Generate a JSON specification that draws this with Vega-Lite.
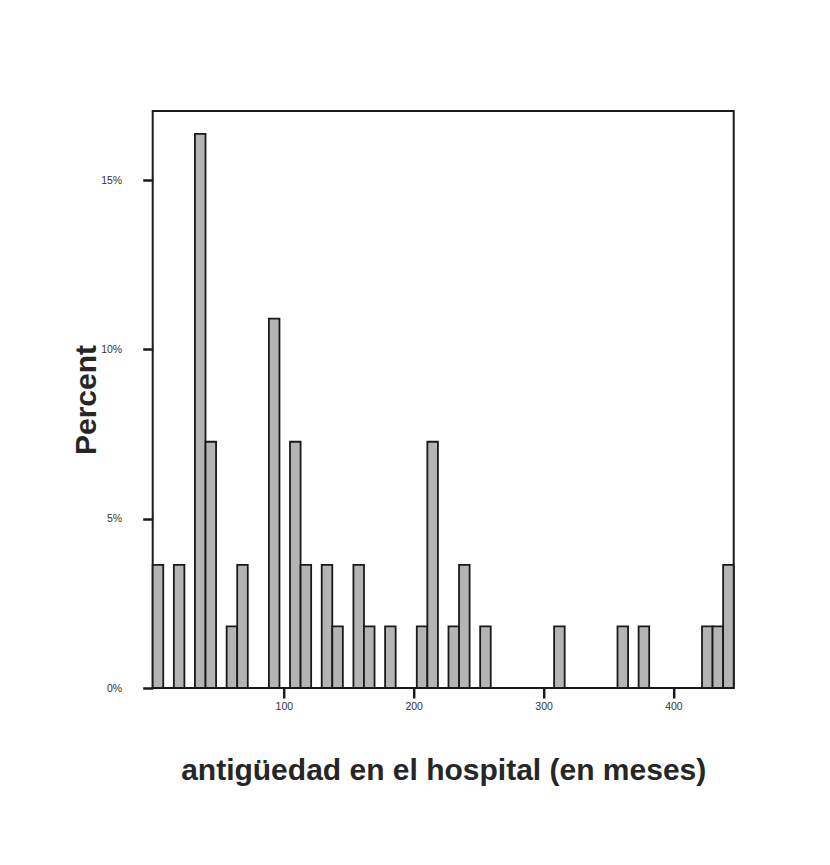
{
  "$schema": "https://vega.github.io/schema/vega-lite/v6.json",
  "description": "Histogram of hospital seniority in months, 55 staff, bars as percent of total",
  "width": 581,
  "height": 577,
  "autosize": "none",
  "padding": {"left": 152.7, "top": 111, "right": 96.3, "bottom": 177},
  "background": "white",
  "config": {
    "view": {"stroke": "#1a1a1a", "strokeWidth": 2},
    "axis": {
      "domain": false,
      "grid": false,
      "tickColor": "#1a1a1a",
      "tickWidth": 2.5,
      "tickSize": 10,
      "labelFont": "Liberation Sans",
      "labelFontSize": 10.5,
      "labelColor": "#333333",
      "titleFont": "Liberation Sans",
      "titleFontWeight": "bold",
      "titleFontSize": 30,
      "titleColor": "#262626"
    }
  },
  "data": {
    "values": [
      {"bin_start": -1, "bin_end": 7.135, "percent": 3.636},
      {"bin_start": 15.27, "bin_end": 23.405, "percent": 3.636},
      {"bin_start": 31.54, "bin_end": 39.675, "percent": 16.364},
      {"bin_start": 39.675, "bin_end": 47.81, "percent": 7.273},
      {"bin_start": 55.945, "bin_end": 64.08, "percent": 1.818},
      {"bin_start": 64.08, "bin_end": 72.215, "percent": 3.636},
      {"bin_start": 88.485, "bin_end": 96.62, "percent": 10.909},
      {"bin_start": 104.755, "bin_end": 112.89, "percent": 7.273},
      {"bin_start": 112.89, "bin_end": 121.025, "percent": 3.636},
      {"bin_start": 129.16, "bin_end": 137.295, "percent": 3.636},
      {"bin_start": 137.295, "bin_end": 145.43, "percent": 1.818},
      {"bin_start": 153.565, "bin_end": 161.7, "percent": 3.636},
      {"bin_start": 161.7, "bin_end": 169.835, "percent": 1.818},
      {"bin_start": 177.97, "bin_end": 186.105, "percent": 1.818},
      {"bin_start": 202.375, "bin_end": 210.51, "percent": 1.818},
      {"bin_start": 210.51, "bin_end": 218.645, "percent": 7.273},
      {"bin_start": 226.78, "bin_end": 234.915, "percent": 1.818},
      {"bin_start": 234.915, "bin_end": 243.05, "percent": 3.636},
      {"bin_start": 251.185, "bin_end": 259.32, "percent": 1.818},
      {"bin_start": 308.13, "bin_end": 316.265, "percent": 1.818},
      {"bin_start": 356.94, "bin_end": 365.075, "percent": 1.818},
      {"bin_start": 373.21, "bin_end": 381.345, "percent": 1.818},
      {"bin_start": 422.02, "bin_end": 430.155, "percent": 1.818},
      {"bin_start": 430.155, "bin_end": 438.29, "percent": 1.818},
      {"bin_start": 438.29, "bin_end": 446.425, "percent": 3.636}
    ]
  },
  "mark": {"type": "rect", "fill": "#b4b4b4", "stroke": "#1a1a1a", "strokeWidth": 1.8},
  "encoding": {
    "x": {
      "field": "bin_start",
      "type": "quantitative",
      "scale": {"domain": [-1, 446.425], "nice": false, "zero": false},
      "axis": {
        "values": [100, 200, 300, 400],
        "labelPadding": 3,
        "title": "antigüedad en el hospital (en meses)",
        "titleY": 91.5,
        "titleBaseline": "alphabetic"
      }
    },
    "x2": {"field": "bin_end"},
    "y": {
      "field": "percent",
      "type": "quantitative",
      "scale": {"domain": [0, 17.04], "nice": false},
      "axis": {
        "values": [0, 5, 10, 15],
        "labelExpr": "datum.value + '%'",
        "labelPadding": 21,
        "title": "Percent",
        "titleAngle": -90,
        "titleX": -57,
        "titleY": 288.5,
        "titleAlign": "center",
        "titleBaseline": "alphabetic"
      }
    },
    "y2": {"datum": 0}
  }
}
